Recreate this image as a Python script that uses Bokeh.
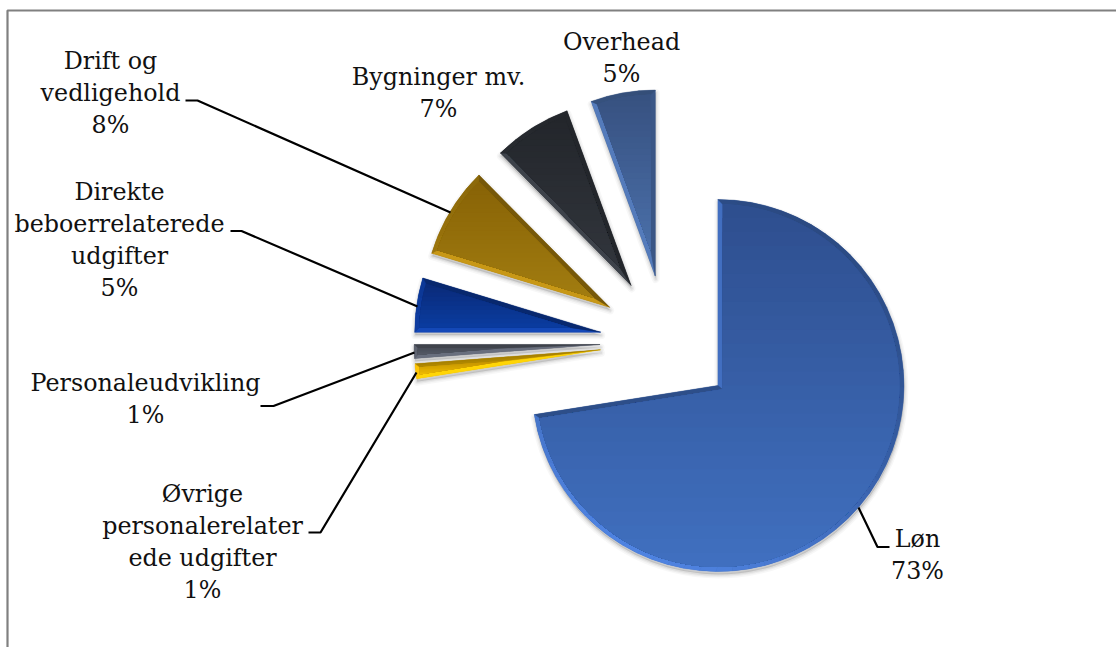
import math
import numpy as np
from bokeh.plotting import figure
from bokeh.models import Range1d
from bokeh.core.properties import value
from bokeh.embed import file_html
from bokeh.resources import INLINE

# ---- data (clockwise from 12 o'clock) ----
categories = ["Løn", "Øvrige personalerelaterede udgifter", "Personaleudvikling",
              "Direkte beboerrelaterede udgifter", "Drift og vedligehold",
              "Bygninger mv.", "Overhead"]
shares = [72.5, 1.3, 1.2, 4.7, 7.9, 6.8, 5.6]
percent_labels = [73, 1, 1, 5, 8, 7, 5]
label_lines = [["Løn"], ["Øvrige", "personalerelater", "ede udgifter"],
               ["Personaleudvikling"], ["Direkte", "beboerrelaterede", "udgifter"],
               ["Drift og", "vedligehold"], ["Bygninger mv."], ["Overhead"]]
face_top = ["#2e4e8e", "#c09000", "#474c57", "#0a2a78", "#876306", "#23262b", "#375180"]
face_bottom = ["#4070c0", "#efbc00", "#555a66", "#0a3ca0", "#a27c10", "#31353c", "#4a6fa9"]

# ---- layout (page pixels) ----
W, H = 1116, 647
CX, CY = 666.5, 341.5
R, EXPLODE = 186.0, 67.0
FONT, FS = "DejaVu Serif", "23.8px"
LINE_H = 32.2
label_pos = [(917, 538), (202, 493), (145, 382), (119, 191), (110, 60), (438, 76), (621, 41)]
leaders = [[(858, 507), (877, 546.5), (889, 546.5)],
           [(308, 532), (320, 532), (416, 372)],
           [(260, 405.5), (273, 405.5), (414, 352)],
           [(230, 230.5), (241, 230.5), (417, 306)],
           [(185, 100), (197, 100), (450, 212)]]


def px(x, y):
    return x - CX, CY - y


def rgb(c):
    c = c.lstrip("#")
    return np.array([int(c[i:i + 2], 16) for i in (0, 2, 4)], float)


def hexa(a):
    a = np.clip(a, 0, 255).round().astype(int)
    return "#%02x%02x%02x" % tuple(a)


def mix(c1, c2, t):
    return c1 + (c2 - c1) * t


def clip_below(poly, y0):
    """Keep the polygon's part with y <= y0."""
    out = []
    for i in range(len(poly)):
        a, b = poly[i], poly[(i + 1) % len(poly)]
        ina, inb = a[1] <= y0, b[1] <= y0
        if ina:
            out.append(a)
        if ina != inb:
            t = (y0 - a[1]) / (b[1] - a[1])
            out.append((a[0] + t * (b[0] - a[0]), y0))
    return out


p = figure(width=W, height=H, output_backend="svg", toolbar_location=None,
           x_range=Range1d(-CX, W - CX), y_range=Range1d(CY - H, CY),
           min_border=0, outline_line_color=None, background_fill_color="white",
           border_fill_color="white")
p.axis.visible = False
p.grid.visible = False

# chart-area border: top and left only reach the picture
bx, by = px(7, 10)
ex, _ = px(W, 0)
_, ey = px(0, H)
p.line([bx, bx, ex], [ey, by, by], line_color="#808080", line_width=2.2)

L = np.array([-0.45, -0.89])   # bevel lit from below-left
total = sum(shares)
cum = 0.0
for i, s in enumerate(shares):
    t1 = cum / total * 2 * math.pi
    cum += s
    t2 = cum / total * 2 * math.pi
    mid = (t1 + t2) / 2
    half = (t2 - t1) / 2
    ax, ay = EXPLODE * math.sin(mid), EXPLODE * math.cos(mid)
    top, bot = rgb(face_top[i]), rgb(face_bottom[i])
    base = (top + bot) / 2

    # soft shadow
    for lw, al in ((8, .03), (5, .045), (2.5, .06)):
        p.wedge(x=[ax + 0.5], y=[ay - 3], radius=[R], start_angle=[math.pi / 2 - t2],
                end_angle=[math.pi / 2 - t1], fill_color="black", fill_alpha=al,
                line_color="black", line_alpha=al, line_width=lw, line_join="round")
    # the slice itself
    p.wedge(x=[ax], y=[ay], radius=[R], start_angle=[math.pi / 2 - t2],
            end_angle=[math.pi / 2 - t1], fill_color=hexa(base), line_color=None)

    chord = 2 * R * math.sin(half)
    d = min(4.5, 0.25 * chord)
    ia = d / math.sin(half)       # inner apex distance
    ri = R - d
    ang1, ang2 = t1 + math.asin(d / ri), t2 - math.asin(d / ri)
    apex_o = (ax, ay)
    apex_i = (ax + ia * math.sin(mid), ay + ia * math.cos(mid))
    P = lambda r, t: (ax + r * math.sin(t), ay + r * math.cos(t))

    def shade(n):
        k = float(np.dot(n, L))
        return hexa(base * (1 + .30 * k) + 8 * max(k, 0)) if k > 0 else hexa(base * (1 + .22 * k))

    def band(poly, col):
        p.patch([q[0] for q in poly], [q[1] for q in poly], fill_color=col,
                line_color=col, line_width=0.4)

    # bevels along the two straight edges
    n1 = np.array([-math.cos(t1), math.sin(t1)])    # outward of start edge
    n2 = np.array([math.cos(t2), -math.sin(t2)])    # outward of end edge
    band([apex_o, P(R, t1), P(ri, ang1), apex_i], shade(n1))
    band([apex_o, P(R, t2), P(ri, ang2), apex_i], shade(n2))
    # bevel along the arc
    nseg = max(2, int((t2 - t1) / math.radians(5)))
    for k in range(nseg):
        u1 = t1 + (t2 - t1) * k / nseg
        u2 = t1 + (t2 - t1) * (k + 1) / nseg
        v1 = ang1 + (ang2 - ang1) * k / nseg
        v2 = ang1 + (ang2 - ang1) * (k + 1) / nseg
        um = (u1 + u2) / 2
        band([P(R, u1), P(R, u2), P(ri, v2), P(ri, v1)],
             shade(np.array([math.sin(um), math.cos(um)])))

    # inner face with a vertical gradient, painted from top to bottom
    arc = [P(ri, a) for a in np.linspace(ang1, ang2, max(6, int((t2 - t1) * 40)))]
    face = [apex_i] + arc
    ys = [q[1] for q in face]
    ymin, ymax = min(ys), max(ys)
    steps = 26 if ymax - ymin > 60 else 10
    for k in range(steps):
        y0 = ymax - (ymax - ymin) * k / steps
        part = face if k == 0 else clip_below(face, y0)
        col = hexa(mix(top, bot, (k + .5) / steps))
        if len(part) >= 3:
            p.patch([q[0] for q in part], [q[1] for q in part], fill_color=col, line_color=None)

# leader lines
for line in leaders:
    q = [px(*c) for c in line]
    p.line([c[0] for c in q], [c[1] for c in q], line_color="black", line_width=2.2)

# labels
for lines, pct, (x, y) in zip(label_lines, percent_labels, label_pos):
    for j, t in enumerate(lines + [f"{pct}%"]):
        tx, ty = px(x, y + j * LINE_H)
        p.text(x=[tx], y=[ty], text=[t], text_align="center", text_baseline="middle",
               text_font=value(FONT), text_font_size=FS, text_color="#111111")

open("out.html", "w").write(file_html(p, INLINE))
